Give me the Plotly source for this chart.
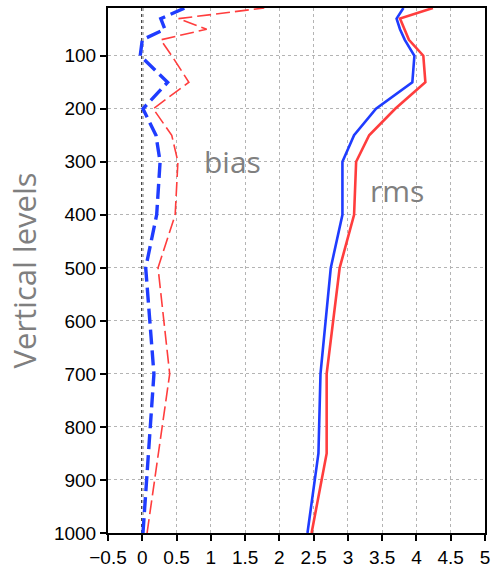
import plotly.graph_objects as go

# Pressure levels (hPa)
levels = [1000, 925, 850, 700, 500, 400, 300, 250, 200, 150, 100, 70, 50, 30, 10]

# Root-mean-square error profiles
rms_blue = [2.41, 2.49, 2.57, 2.60, 2.75, 2.92, 2.92, 3.09, 3.41, 3.94, 3.97, 3.83, 3.76, 3.71, 3.81]
rms_red = [2.47, 2.58, 2.69, 2.69, 2.88, 3.09, 3.12, 3.31, 3.69, 4.13, 4.10, 3.89, 3.82, 3.76, 4.24]

# Mean bias profiles
bias_blue = [0.01, 0.05, 0.09, 0.17, 0.05, 0.21, 0.26, 0.20, 0.01, 0.37, -0.03, 0.00, 0.33, 0.27, 0.62]
bias_red = [0.07, 0.15, 0.23, 0.40, 0.23, 0.48, 0.52, 0.43, 0.16, 0.68, 0.43, 0.27, 0.94, 0.53, 1.78]

x_ticks = [-0.5, 0, 0.5, 1, 1.5, 2, 2.5, 3, 3.5, 4, 4.5, 5]
x_ticktext = ["\u22120.5", "0", "0.5", "1", "1.5", "2", "2.5", "3", "3.5", "4", "4.5", "5"]
y_ticks = [100, 200, 300, 400, 500, 600, 700, 800, 900, 1000]
y_ticktext = [str(v) for v in y_ticks]

BLUE = "#1f3cff"
RED = "#ff3d3d"

fig = go.Figure()
fig.add_trace(go.Scatter(x=bias_blue, y=levels, mode="lines",
                         line=dict(color=BLUE, width=3.4, dash="15px,6px")))
fig.add_trace(go.Scatter(x=bias_red, y=levels, mode="lines",
                         line=dict(color=RED, width=1.6, dash="14px,5px")))
fig.add_trace(go.Scatter(x=rms_blue, y=levels, mode="lines",
                         line=dict(color=BLUE, width=2.6)))
fig.add_trace(go.Scatter(x=rms_red, y=levels, mode="lines",
                         line=dict(color=RED, width=2.6)))

# reference line at zero bias
fig.add_vline(x=0, line=dict(color="black", width=2, dash="dot"), layer="below")

fig.add_annotation(x=1.32, y=300, text="bias", showarrow=False,
                   font=dict(family="Open Sans", size=30, color="#808080"))
fig.add_annotation(x=3.72, y=355, text="rms", showarrow=False,
                   font=dict(family="Open Sans", size=30, color="#808080"))

tick_font = dict(family="Liberation Sans, Arial", size=19, color="black")

fig.update_layout(
    width=496, height=574,
    margin=dict(l=108, r=6, t=7, b=31),
    plot_bgcolor="white", paper_bgcolor="white",
    showlegend=False,
    xaxis=dict(range=[-0.5, 5], tickvals=x_ticks, ticktext=x_ticktext,
               showgrid=True, gridcolor="#b4b4b4", griddash="dot", gridwidth=1,
               zeroline=False, showline=True, linecolor="black", linewidth=2,
               mirror=True, ticks="outside", ticklen=6, tickwidth=2,
               tickcolor="black", tickfont=tick_font),
    yaxis=dict(range=[1000, 10], tickvals=y_ticks, ticktext=y_ticktext,
               showgrid=True, gridcolor="#b4b4b4", griddash="dot", gridwidth=1,
               zeroline=False, showline=True, linecolor="black", linewidth=2,
               mirror=True, ticks="outside", ticklen=6, tickwidth=2,
               tickcolor="black", tickfont=tick_font,
               title=dict(text="Vertical levels", standoff=8,
                          font=dict(family="Open Sans", size=31, color="#7f7f7f"))),
)

fig.write_html("out.html")
